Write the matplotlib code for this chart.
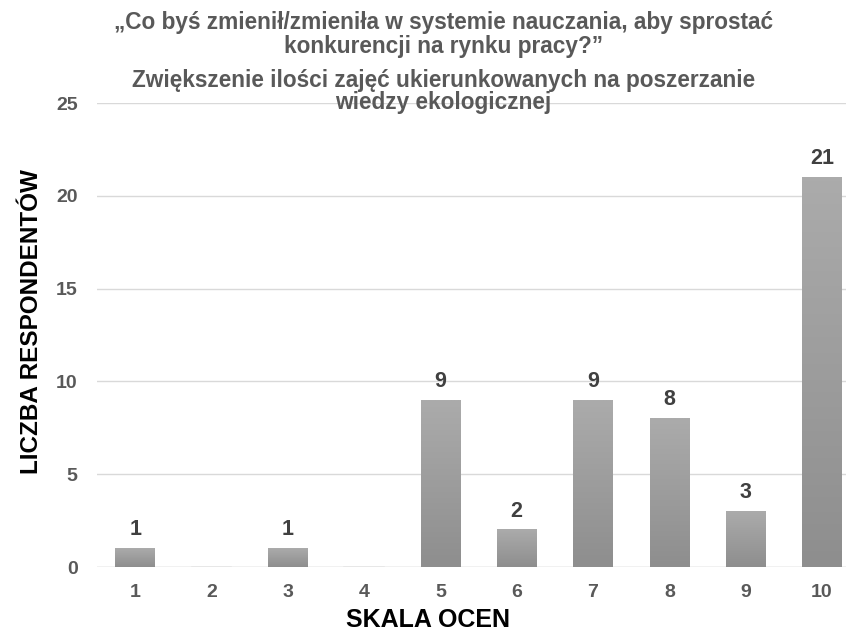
import numpy as np
import matplotlib
matplotlib.use("Agg")
import matplotlib.pyplot as plt
from matplotlib.colors import LinearSegmentedColormap

# dane z wykresu
oceny = [1, 2, 3, 4, 5, 6, 7, 8, 9, 10]
liczba = [1, 0, 1, 0, 9, 2, 9, 8, 3, 21]
etykiety = ["1", "", "1", "", "9", "2", "9", "8", "3", "21"]

tytul = ["\u201eCo byś zmienił/zmieniła w systemie nauczania, aby sprostać",
         "konkurencji na rynku pracy?\u201d",
         "Zwiększenie ilości zajęć ukierunkowanych na poszerzanie",
         "wiedzy ekologicznej"]

plt.rcParams['font.family'] = ['Liberation Sans', 'DejaVu Sans']

fig = plt.figure(figsize=(8.46, 6.32), dpi=100)
ax = fig.add_axes([0.1147, 0.1028, 0.902, 0.734])

szer = 0.52
grad = np.linspace(0, 1, 100).reshape(-1, 1)
cmap = LinearSegmentedColormap.from_list('g', ['#8e8e8e', '#ababab'])
for x, y in zip(oceny, liczba):
    if y > 0:
        ax.imshow(grad, extent=(x - szer / 2, x + szer / 2, 0, y), origin='lower',
                  cmap=cmap, aspect='auto', zorder=3)
    else:
        ax.plot([x - szer / 2, x + szer / 2], [0.02, 0.02], color='#e6e6e6', lw=1.2, zorder=3)

for x, y, t in zip(oceny, liczba, etykiety):
    if t:
        ax.annotate(t, (x, y), xytext=(0, 6), textcoords='offset points',
                    ha='center', va='bottom', fontsize=15.5, fontweight='bold', color='#404040')

ax.set_xlim(0.5, 10.5)
ax.set_ylim(0, 25)
ax.set_xticks(oceny)
ax.set_yticks([0, 5, 10, 15, 20, 25])
ax.tick_params(length=0, labelsize=14, labelcolor='#595959')
for lab in ax.get_xticklabels() + ax.get_yticklabels():
    lab.set_fontweight('bold')
ax.xaxis.set_tick_params(pad=12)
ax.yaxis.set_tick_params(pad=14)
ax.grid(axis='y', color='#d9d9d9', lw=1, zorder=0)
for s in ax.spines.values():
    s.set_visible(False)
ax.axhline(0, color='#d9d9d9', lw=1, zorder=1)

ax.set_xlabel("SKALA OCEN", fontsize=18, fontweight='bold', color='black')
ax.set_ylabel("LICZBA RESPONDENTÓW", fontsize=17.5, fontweight='bold', color='black')
ax.xaxis.set_label_coords(0.434, -0.088)
ax.yaxis.set_label_coords(-0.071, 0.53)

# linie tytułu (środki w pikselach od góry)
for linia, yp in zip(tytul, [23, 46, 80, 103]):
    fig.text(0.524, 1 - yp / 632, linia, ha='center', va='center', fontsize=16.3,
             fontweight='bold', color='#595959')

fig.savefig("out.png", dpi=100)
